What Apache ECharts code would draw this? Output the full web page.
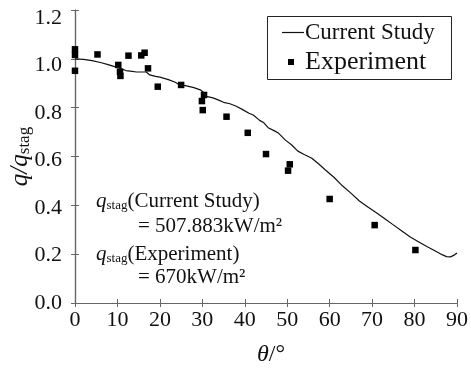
<!DOCTYPE html>
<html>
<head>
<meta charset="utf-8">
<script src="https://cdn.jsdelivr.net/npm/echarts@6/dist/echarts.min.js"></script>
<style>html,body{margin:0;padding:0;background:#fff}#c{width:471px;height:372px}</style>
</head>
<body>
<div id="c"></div>
<script>
// Data
const lineTheta = [0,2,4,6,8,9.5,10.5,12,13,14.5,16.8,17.6,19,20,22,23.5,24.5,26,28,29.5,30.3,31,32.5,34,35,36.5,38,39.5,41,42,43.5,44.5,45.5,47,48,49.5,51,52.5,54,55.8,57.5,59,61,63,65,67,69,71,73,75,77,79,81,83,85,86.5,87.5,88.5,89.3,90];
const lineQ = [1.000,0.998,0.993,0.985,0.975,0.967,0.962,0.952,0.950,0.946,0.946,0.934,0.928,0.925,0.915,0.905,0.895,0.890,0.882,0.873,0.862,0.846,0.840,0.830,0.822,0.816,0.806,0.792,0.777,0.770,0.748,0.738,0.718,0.705,0.695,0.668,0.648,0.622,0.608,0.593,0.568,0.545,0.515,0.480,0.450,0.418,0.393,0.370,0.345,0.320,0.295,0.270,0.250,0.230,0.212,0.198,0.190,0.189,0.196,0.205];
const expTheta = [0,0,0,5.3,10.2,10.6,10.7,12.6,15.6,16.4,17.2,19.5,25.0,30.4,29.9,30.1,35.7,40.7,45.0,50.6,50.2,60.0,70.6,80.2];
const expQ = [1.039,1.016,0.951,1.018,0.975,0.947,0.930,1.013,1.014,1.025,0.961,0.886,0.893,0.852,0.827,0.790,0.763,0.697,0.610,0.568,0.542,0.426,0.319,0.217];
const xTicks = {min:0, max:90, interval:10};
const yTicks = {min:0, max:1.2, interval:0.2};
const seriesNames = ['Current Study','Experiment'];

const FONT = 'Liberation Serif';
const AX = '#666';
const chart = echarts.init(document.getElementById('c'), null, {renderer:'canvas'});
const tickCommon = {show:true, inside:true, length:4, lineStyle:{color:AX, width:1}};
const subRich = {
  q:{fontFamily:FONT, fontSize:21, fontStyle:'italic', fill:'#111', lineHeight:22, verticalAlign:'bottom'},
  s:{fontFamily:FONT, fontSize:13, fill:'#111', lineHeight:14, verticalAlign:'bottom'},
  t:{fontFamily:FONT, fontSize:21, fill:'#111', lineHeight:22, verticalAlign:'bottom'}
};
const option = {
  animation:false,
  backgroundColor:'#fff',
  textStyle:{fontFamily:FONT},
  grid:[
    {left:74, right:11, top:10, bottom:69},
    {left:74, right:11, top:18, bottom:69}
  ],
  xAxis:[
    {gridIndex:0, type:'value', min:xTicks.min, max:xTicks.max, interval:xTicks.interval, position:'bottom',
     axisLine:{show:true, lineStyle:{color:AX, width:1.2}}, axisTick:tickCommon, splitLine:{show:false},
     axisLabel:{fontFamily:FONT, fontSize:22, color:'#111', margin:6},
     name:'{i|θ}/°', nameLocation:'middle', nameGap:40,
     nameTextStyle:{fontFamily:FONT, fontSize:24, color:'#111', padding:[0,0,0,10], rich:{i:{fontFamily:FONT, fontSize:24, fontStyle:'italic', color:'#111'}}}},
    {gridIndex:0, type:'value', min:xTicks.min, max:xTicks.max, interval:xTicks.interval, position:'top',
     axisLine:{show:true, lineStyle:{color:AX, width:1.2}}, axisTick:tickCommon, axisLabel:{show:false}, splitLine:{show:false}},
    {gridIndex:1, type:'value', min:xTicks.min, max:xTicks.max, show:false}
  ],
  yAxis:[
    {gridIndex:0, type:'value', min:yTicks.min, max:yTicks.max, interval:yTicks.interval, position:'left',
     axisLine:{show:true, lineStyle:{color:AX, width:1.2}}, axisTick:tickCommon, axisLabel:{show:false}, splitLine:{show:false},
     name:'{i|q}{i|/}{i|q}{s|stag}', nameLocation:'middle', nameRotate:90, nameGap:42,
     nameTextStyle:{fontFamily:FONT, fontSize:24, color:'#111',
       rich:{i:{fontFamily:FONT, fontSize:25, fontStyle:'italic', color:'#111', lineHeight:26, verticalAlign:'bottom'},
             s:{fontFamily:FONT, fontSize:17, color:'#111', lineHeight:20, verticalAlign:'bottom'}}}},
    {gridIndex:0, type:'value', min:yTicks.min, max:yTicks.max, interval:yTicks.interval, position:'right',
     axisLine:{show:true, lineStyle:{color:AX, width:1.2}}, axisTick:tickCommon, axisLabel:{show:false}, splitLine:{show:false}},
    {gridIndex:1, type:'value', min:yTicks.min, max:yTicks.max, interval:yTicks.interval, position:'left',
     axisLine:{show:false}, axisTick:{show:false}, splitLine:{show:false},
     axisLabel:{fontFamily:FONT, fontSize:22, color:'#111', margin:12, formatter:v=>v.toFixed(1)}}
  ],
  legend:[
    {data:[{name:seriesNames[0], icon:'rect', itemStyle:{color:'#111'}}], left:282, top:21, padding:0, itemWidth:22, itemHeight:1.2, itemGap:0,
     textStyle:{fontFamily:FONT, fontSize:23, color:'#111', padding:[0,0,0,-4]}},
    {data:[{name:seriesNames[1], icon:'rect'}], left:288, top:49, padding:0, itemWidth:6, itemHeight:6,
     textStyle:{fontFamily:FONT, fontSize:26, color:'#111', padding:[0,0,0,6]}}
  ],
  graphic:[
    {type:'rect', shape:{x:267.5, y:16.5, width:184, height:63}, style:{fill:'none', stroke:'#222', lineWidth:1}, z:10},
    {type:'text', left:96, top:191, z:10, style:{text:'{q|q}{s|stag}{t|(Current Study)}', rich:subRich}},
    {type:'text', left:138, top:216, z:10, style:{text:'= 507.883kW/m²', fontFamily:FONT, fontSize:21, fill:'#111'}},
    {type:'text', left:96, top:244, z:10, style:{text:'{q|q}{s|stag}{t|(Experiment)}', rich:subRich}},
    {type:'text', left:138, top:267, z:10, style:{text:'= 670kW/m²', fontFamily:FONT, fontSize:21, fill:'#111'}}
  ],
  series:[
    {name:seriesNames[0], type:'line', xAxisIndex:0, yAxisIndex:0, showSymbol:false, symbol:'none',
     data:lineTheta.map((t,i)=>[t,lineQ[i]]), lineStyle:{color:'#111', width:1.2}, itemStyle:{color:'#111'}},
    {name:seriesNames[1], type:'scatter', xAxisIndex:0, yAxisIndex:0, symbol:'rect', symbolSize:6.5,
     data:expTheta.map((t,i)=>[t,expQ[i]]), itemStyle:{color:'#000', opacity:1}}
  ]
};
chart.setOption(option);
</script>
</body>
</html>
